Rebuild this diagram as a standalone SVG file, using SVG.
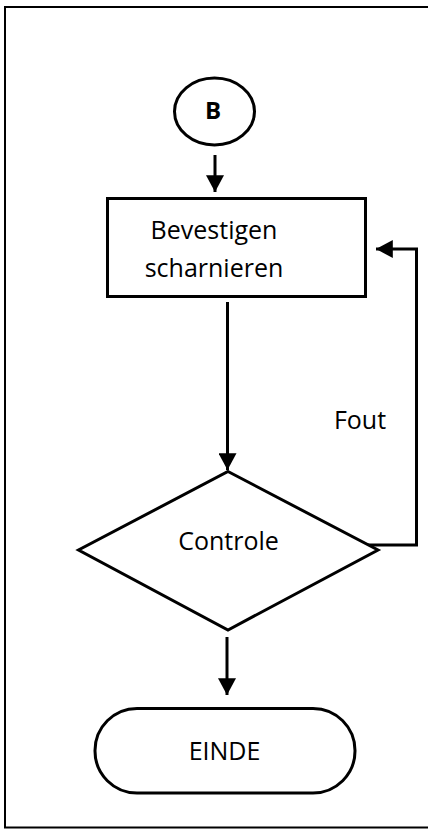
<svg xmlns="http://www.w3.org/2000/svg" width="428" height="830" viewBox="0 0 428 830">
  <defs>
    <marker id="arrow" markerWidth="6" markerHeight="6" refX="5.6" refY="3" orient="auto" markerUnits="strokeWidth">
      <path d="M0,0 L5.6,3 L0,6 Z" fill="#000"/>
    </marker>
  </defs>
  <style>
    .shape { fill: #fff; stroke: #000; stroke-width: 3; }
    .frame { fill: none; stroke: #000; stroke-width: 2; }
    .edge { fill: none; stroke: #000; stroke-width: 3; marker-end: url(#arrow); }
    .label { font-family: "Open Sans", "Noto Sans", sans-serif; font-size: 25px; fill: #000; text-anchor: middle; }
    .bold { font-weight: bold; font-size: 24px; }
  </style>

  <!-- page frame -->
  <rect class="frame" x="5" y="7" width="430" height="820.5"/>

  <g id="connectors">
    <line class="edge" x1="215" y1="155" x2="215" y2="192"/>
    <line class="edge" x1="227.5" y1="302" x2="227.5" y2="470"/>
    <line class="edge" x1="227" y1="637" x2="227" y2="695"/>
    <polyline class="edge" points="368,545 416.5,545 416.5,249 376,249"/>
  </g>

  <g id="node-b">
    <ellipse class="shape" cx="214.5" cy="111.5" rx="40" ry="33.5"/>
    <text class="label bold" x="213" y="118.5">B</text>
  </g>

  <g id="node-bevestigen">
    <rect class="shape" x="107.5" y="198.5" width="258" height="98"/>
    <text class="label" x="214" y="238.5">Bevestigen</text>
    <text class="label" x="214" y="276.5">scharnieren</text>
  </g>

  <g id="node-controle">
    <polygon class="shape" points="228,471.5 378,550 228,630 78.5,550"/>
    <text class="label" x="228.5" y="550">Controle</text>
  </g>

  <g id="label-fout">
    <text class="label" x="360" y="429">Fout</text>
  </g>

  <g id="node-einde">
    <rect class="shape" x="95" y="708.5" width="260" height="84.5" rx="42" ry="42"/>
    <text class="label" x="224.5" y="760">EINDE</text>
  </g>
</svg>
